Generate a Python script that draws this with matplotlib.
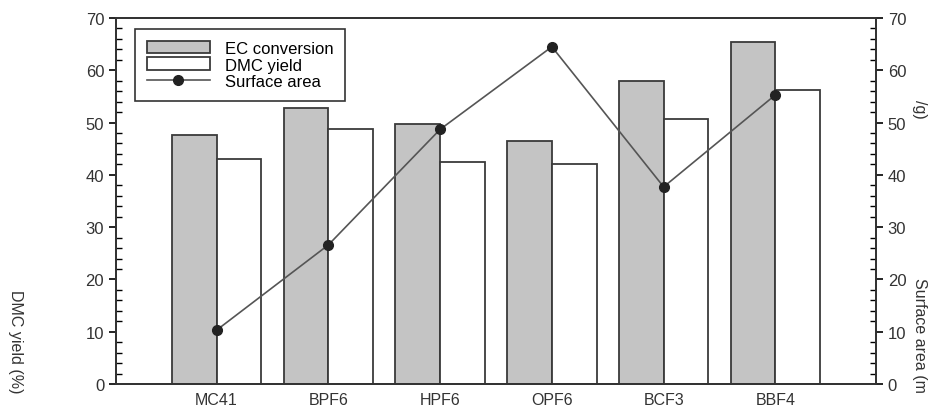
import matplotlib
matplotlib.use("Agg")
import matplotlib.pyplot as plt
import numpy as np
from matplotlib.ticker import MultipleLocator

categories = ["MC41", "BPF6", "HPF6", "OPF6", "BCF3", "BBF4"]
ec_conversion = [47.7, 52.8, 49.8, 46.5, 58.0, 65.5]
dmc_yield = [43.0, 48.8, 42.5, 42.0, 50.7, 56.3]
surface_area = [10.3, 26.6, 48.7, 64.5, 37.7, 55.3]

plt.rcParams['font.family'] = ['Liberation Sans', 'DejaVu Sans']

fig = plt.figure(figsize=(9.32, 4.14), dpi=100)
ax = fig.add_axes([116/932, 1-385/414, (876-116)/932, (385-19)/414])
x = np.arange(len(categories))
w = 0.4
edge = '#3a3a3a'
b1 = ax.bar(x - w/2, ec_conversion, width=w, color='#c4c4c4', edgecolor=edge, linewidth=1.3, label='EC conversion')
b2 = ax.bar(x + w/2, dmc_yield, width=w, color='white', edgecolor=edge, linewidth=1.3, label='DMC yield')
ax.set_xlim(-0.9, 5.9)
ax.set_ylim(0, 70)
ax.set_xticks(x)
ax.set_xticklabels(categories, fontsize=11.5, color='#333333')
ax.yaxis.set_major_locator(MultipleLocator(10))
ax.yaxis.set_minor_locator(MultipleLocator(2))
ax.tick_params(axis='x', length=0, pad=6)
ax.tick_params(axis='y', which='major', direction='out', length=5, labelsize=12, labelcolor='#333333', width=1.2)
ax.tick_params(axis='y', which='minor', direction='in', length=4, width=1)
for s in ax.spines.values():
    s.set_linewidth(1.3)
    s.set_color('#333333')

ax2 = ax.twinx()
ax2.set_ylim(0, 70)
ax2.yaxis.set_major_locator(MultipleLocator(10))
ax2.yaxis.set_minor_locator(MultipleLocator(2))
ax2.tick_params(axis='y', which='major', direction='out', length=5, labelsize=12, labelcolor='#333333', width=1.2)
ax2.tick_params(axis='y', which='minor', direction='in', length=4, width=1)
ln, = ax2.plot(x, surface_area, color='#555555', linewidth=1.2, marker='o', markersize=7,
               markerfacecolor='#222222', markeredgecolor='#222222', label='Surface area')
for s in ax2.spines.values():
    s.set_linewidth(1.3)
    s.set_color('#333333')

leg = ax2.legend([b1, b2, ln], ['EC conversion', 'DMC yield', 'Surface area'],
                 loc='upper left', bbox_to_anchor=(0.025, 0.97), borderaxespad=0, fontsize=12,
                 frameon=True, fancybox=False, edgecolor='#333333', framealpha=1,
                 handlelength=3.8, handleheight=0.8, labelspacing=0.1, borderpad=0.7,
                 handletextpad=0.9)
leg.get_frame().set_linewidth(1.2)

fig.text(15/932, 1-290/414, 'DMC yield (%)', rotation=270, ha='center', va='top', fontsize=11.5, color='#333333')
fig.text(920/932, 1-278/414, 'Surface area (m', rotation=270, ha='center', va='top', fontsize=11.5, color='#333333')
fig.text(920/932, 1-100/414, '/g)', rotation=270, ha='center', va='top', fontsize=11.5, color='#333333')

fig.savefig('out.png', dpi=100)
